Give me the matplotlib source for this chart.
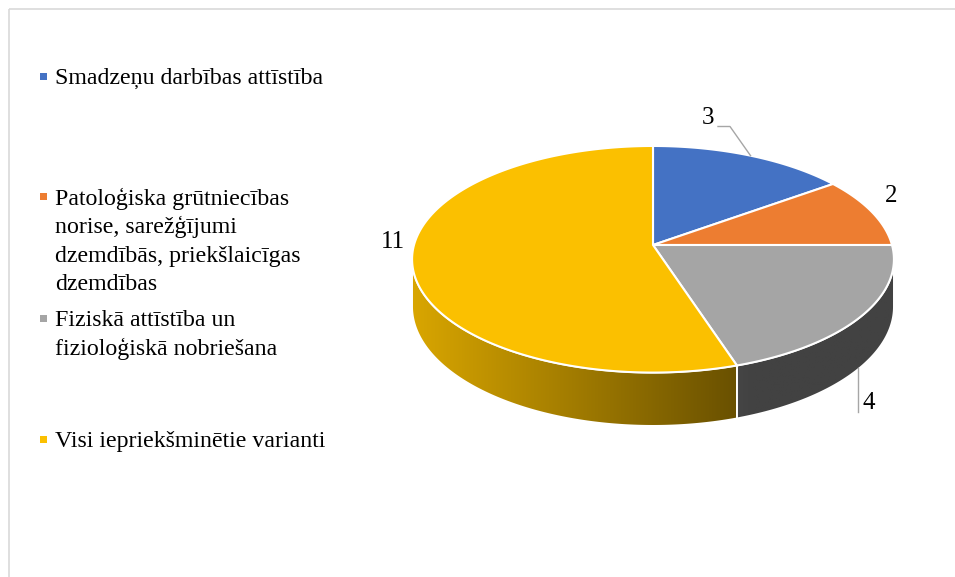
import numpy as np
import matplotlib.pyplot as plt
from matplotlib.patches import Polygon, Rectangle

# data
labels = ['Smadzeņu darbības attīstība',
          'Patoloģiska grūtniecības\nnorise, sarežģījumi\ndzemdībās, priekšlaicīgas\ndzemdības',
          'Fiziskā attīstība un\nfizioloģiskā nobriešana',
          'Visi iepriekšminētie varianti']
values = [3, 2, 4, 11]
colors = ['#4472C4', '#ED7D31', '#A5A5A5', '#FBC000']

plt.rcParams['font.family'] = ['Liberation Serif', 'DejaVu Serif']
FS = 17.2      # legend
FS_LAB = 18    # data labels

fig = plt.figure(figsize=(9.55, 5.77), dpi=100)
ax = fig.add_axes([0, 0, 1, 1])

# pie geometry (pixels), slight perspective
cx, cy = 653, 245
rx, ry = 239, 111.5
k = 0.126      # perspective strength
H = 46.6       # thickness


def proj(theta, depth=0.0):
    t = np.radians(theta)
    X, Y = np.sin(t), np.cos(t)
    d = 1 + k * Y
    return cx + rx * X / d, cy - ry * Y / d + H * depth / d


def arc(a, b, depth=0.0):
    th = np.linspace(a, b, max(int(abs(b - a)) * 2, 2))
    xs, ys = proj(th, depth)
    return np.column_stack([xs, ys])


def shade(x):
    # side lighting: lighter on the left, dark on the right
    return np.clip(0.86 - 0.44 * (x - 415) / (737 - 415), 0.40, 1.0)


total = float(sum(values))
bounds = np.concatenate([[0], np.cumsum(values) / total * 360])

# visible side range
th_vis = np.degrees(np.arccos(-k))
vis_a, vis_b = th_vis, 360 - th_vis

# sides
for i, v in enumerate(values):
    a, b = max(bounds[i], vis_a), min(bounds[i + 1], vis_b)
    if a >= b:
        continue
    pts = np.vstack([arc(a, b, 0), arc(b, a, 1)])
    poly = Polygon(pts, closed=True, facecolor='none', edgecolor='none')
    ax.add_patch(poly)
    x0, x1 = pts[:, 0].min(), pts[:, 0].max()
    y0, y1 = pts[:, 1].min(), pts[:, 1].max()
    xs = np.linspace(x0, x1, 300)
    rgb = np.array(plt.matplotlib.colors.to_rgb(colors[i]))
    img = shade(xs)[None, :, None] * rgb[None, None, :]
    im = ax.imshow(img, extent=(x0, x1, y1, y0), aspect='auto', zorder=1,
                   interpolation='bilinear')
    im.set_clip_path(poly)
    ax.add_patch(Polygon(pts, closed=True, facecolor='none',
                         edgecolor='white', lw=1.3, zorder=2))

# tops
for i, v in enumerate(values):
    pts = np.vstack([[cx, cy], arc(bounds[i], bounds[i + 1], 0)])
    ax.add_patch(Polygon(pts, closed=True, facecolor=colors[i],
                         edgecolor='white', lw=1.5, joinstyle='round', zorder=3))

# data labels
lead = '#A6A6A6'
mid = (bounds[:-1] + bounds[1:]) / 2
# 3
px, py = proj(mid[0])
ax.plot([px, 730, 718], [py, 126.5, 126.5], color=lead, lw=1, zorder=4)
ax.text(707.5, 118.5, str(values[0]), fontsize=FS_LAB, ha='center', va='center')
# 2
px, py = proj(mid[1])
ax.text(px + 19, py - 16, str(values[1]), fontsize=FS_LAB, ha='center', va='center')
# 4
px, py = proj(mid[2], 1)
ax.plot([858, 858], [py + 2, 412], color=lead, lw=1, zorder=4)
ax.text(868.5, 403, str(values[2]), fontsize=FS_LAB, ha='center', va='center')
# 11
px, py = proj(mid[3])
ax.text(px - 19, py - 21, str(values[3]), fontsize=FS_LAB, ha='center', va='center')

# legend
entry_y = [76, 196, 318, 439]
step = 28.8
for lab, col, y in zip(labels, colors, entry_y):
    ax.add_patch(Rectangle((40, y - 3.5), 7, 7, facecolor=col, edgecolor='none'))
    for j, line in enumerate(lab.split('\n')):
        ax.text(55, y + j * step, line, fontsize=FS, ha='left', va='center_baseline')

# chart frame
ax.add_patch(Rectangle((8.5, 8.5), 960, 600, facecolor='none',
                       edgecolor='#D9D9D9', lw=1.2))

ax.set_xlim(0, 955)
ax.set_ylim(577, 0)
ax.axis('off')
fig.savefig('out.png', dpi=100)
